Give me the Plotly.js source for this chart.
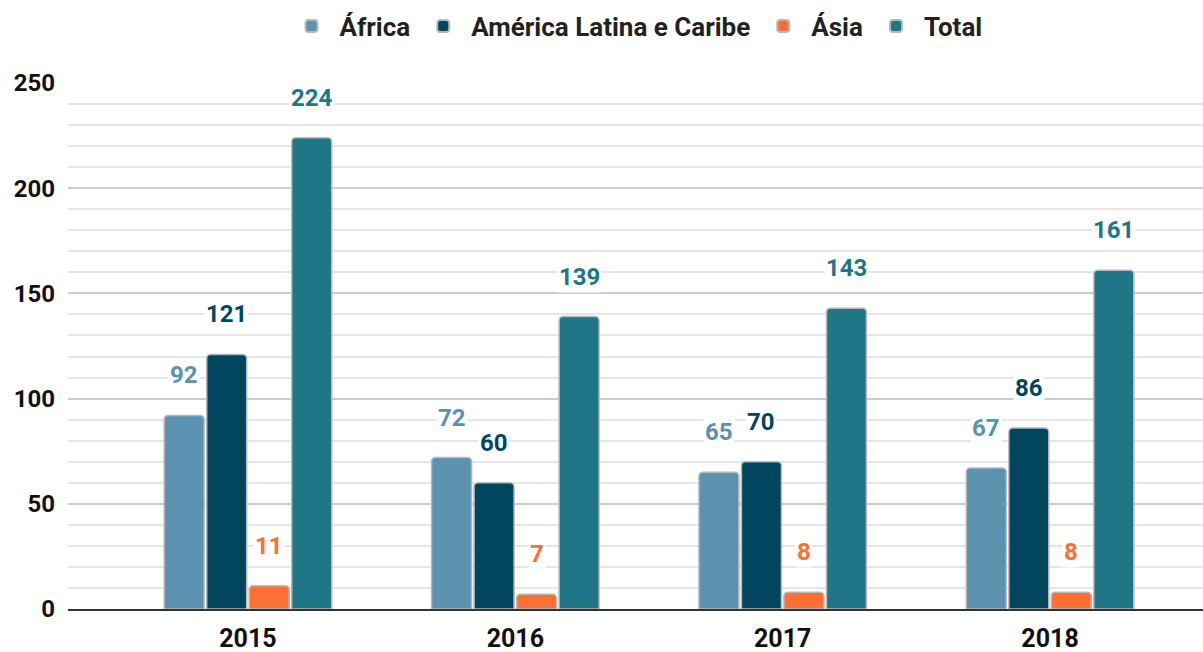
<!DOCTYPE html>
<html>
<head>
<meta charset="utf-8">
<script src="https://cdn.plot.ly/plotly-3.0.1.min.js"></script>
<style>html,body{margin:0;padding:0;background:#fff;}#chart{width:1203px;height:652px;}</style>
</head>
<body>
<div id="chart"></div>
<script>
const years = ['2015', '2016', '2017', '2018'];
const seriesNames = ['África', 'América Latina e Caribe', 'Ásia', 'Total'];
const africa = [92, 72, 65, 67];
const americaLatina = [121, 60, 70, 86];
const asia = [11, 7, 8, 8];
const total = [224, 139, 143, 161];
const colors = ['#5a92b0', '#02455f', '#ff6f31', '#1e7686'];
const values = [africa, americaLatina, asia, total];

const bargap = 0.364;
const bargroupgap = 0.06;

const traces = values.map((v, i) => ({
  type: 'bar',
  name: seriesNames[i],
  x: years,
  y: v,
  marker: {color: colors[i], line: {color: '#b8b8b8', width: 1.5}},
  hoverinfo: 'skip'
}));

const slot = (1 - bargap) / values.length;
const annotations = [];
values.forEach((v, i) => {
  const off = (i - (values.length - 1) / 2) * slot;
  v.forEach((val, j) => {
    annotations.push({
      x: j + off, y: val, xref: 'x', yref: 'y',
      text: String(val), showarrow: false,
      yanchor: 'middle', yshift: 40,
      bgcolor: 'rgba(255,255,255,0.9)', borderpad: 1,
      font: {family: 'Roboto', size: 24, weight: 700, color: colors[i]}
    });
  });
});

const layout = {
  width: 1203, height: 652,
  margin: {l: 68, r: 0, t: 83, b: 43},
  paper_bgcolor: '#fff', plot_bgcolor: '#fff',
  barmode: 'group', bargap: bargap, bargroupgap: bargroupgap,
  barcornerradius: 4,
  font: {family: 'Roboto', color: '#111'},
  showlegend: true,
  legend: {
    orientation: 'h', x: 0.5, xanchor: 'center', xref: 'paper',
    y: 0.924, yanchor: 'bottom', yref: 'container',
    font: {family: 'Roboto', size: 26, weight: 700, color: '#222'},
    itemsizing: 'constant', traceorder: 'normal', itemwidth: 46
  },
  xaxis: {
    type: 'category', range: [-0.673, 3.572],
    showgrid: false, showline: true, linecolor: '#333', linewidth: 1.5,
    ticks: '', ticklabelstandoff: 6,
    tickfont: {family: 'Roboto', size: 25, weight: 700, color: '#111'},
    fixedrange: true
  },
  yaxis: {
    range: [0, 250], dtick: 50, tick0: 0,
    showgrid: true, gridcolor: '#cccccc', gridwidth: 2,
    minor: {dtick: 10, showgrid: true, gridcolor: '#e6e6e6', gridwidth: 2},
    zeroline: false, showline: false, ticks: '', ticklabelstandoff: 12,
    tickfont: {family: 'Roboto', size: 24, weight: 700, color: '#111'},
    fixedrange: true
  },
  annotations: annotations
};

Plotly.newPlot('chart', traces, layout, {displayModeBar: false, staticPlot: true});
</script>
</body>
</html>
